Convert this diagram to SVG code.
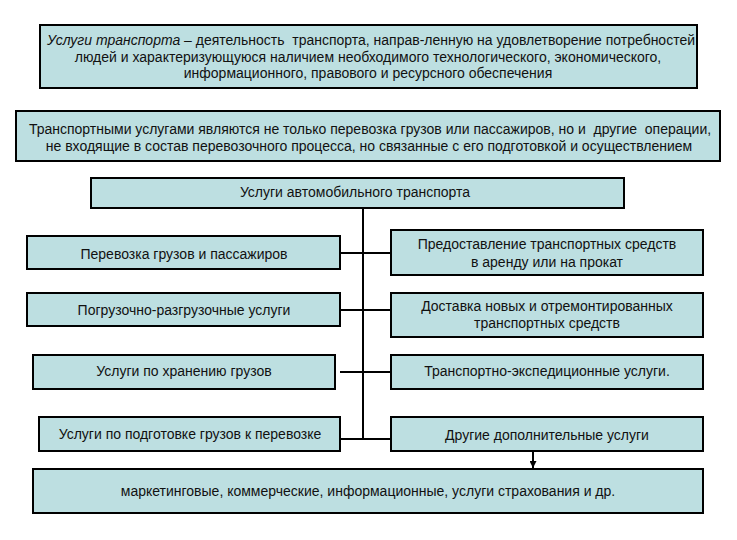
<svg xmlns="http://www.w3.org/2000/svg" width="737" height="540" viewBox="0 0 737 540">
<defs>
<style>
.box{fill:#bddfe1;stroke:#000;stroke-width:2}
.t{font-family:"Liberation Sans",Arial,sans-serif;font-size:14px;fill:#111;text-anchor:middle}
.c{stroke:#000;stroke-width:2;fill:none}
</style>
<marker id="ah" viewBox="0 0 10 10" refX="10" refY="5" markerWidth="7" markerHeight="7" orient="auto" markerUnits="userSpaceOnUse">
<path d="M0,0 L10,5 L0,10 z" fill="#000"/>
</marker>
</defs>
<rect width="737" height="540" fill="#fff"/>
<g id="def1">
<rect class="box" x="40" y="25" width="657" height="63"/>
<text class="t" x="371" y="45" xml:space="preserve" textLength="648" lengthAdjust="spacingAndGlyphs"><tspan font-style="italic">Услуги транспорта</tspan> – деятельность  транспорта, направ-ленную на удовлетворение потребностей</text>
<text class="t" x="368" y="62">людей и характеризующуюся наличием необходимого технологического, экономического,</text>
<text class="t" x="368" y="78">информационного, правового и ресурсного обеспечения</text>
</g>
<g id="def2">
<rect class="box" x="16" y="111" width="704" height="50"/>
<text class="t" x="370" y="134" xml:space="preserve">Транспортными услугами являются не только перевозка грузов или пассажиров, но и  другие  операции,</text>
<text class="t" x="369" y="151">не входящие в состав перевозочного процесса, но связанные с его подготовкой и осуществлением</text>
</g>
<g id="header">
<rect class="box" x="91" y="178" width="533" height="30"/>
<text class="t" x="355" y="197">Услуги автомобильного транспорта</text>
</g>
<g id="connectors">
<line class="c" x1="363" y1="208" x2="363" y2="440"/>
<line class="c" x1="340" y1="253" x2="391" y2="253"/>
<line class="c" x1="340" y1="310" x2="391" y2="310"/>
<line class="c" x1="340" y1="372" x2="391" y2="372"/>
<line class="c" x1="340" y1="439" x2="391" y2="439"/>
<line class="c" x1="533" y1="451" x2="533" y2="468" marker-end="url(#ah)" stroke-width="1.5"/>
</g>
<g id="l1">
<rect class="box" x="27" y="236" width="313" height="33"/>
<text class="t" x="184" y="259">Перевозка грузов и пассажиров</text>
</g>
<g id="l2">
<rect class="box" x="27" y="293" width="313" height="33"/>
<text class="t" x="184" y="315">Погрузочно-разгрузочные услуги</text>
</g>
<g id="l3">
<rect class="box" x="33" y="355" width="302" height="34"/>
<text class="t" x="184" y="376">Услуги по хранению грузов</text>
</g>
<g id="l4">
<rect class="box" x="39" y="417" width="301" height="34"/>
<text class="t" x="190" y="439">Услуги по подготовке грузов к перевозке</text>
</g>
<g id="r1">
<rect class="box" x="391" y="230" width="312" height="45"/>
<text class="t" x="547" y="249">Предоставление транспортных средств</text>
<text class="t" x="547" y="267">в аренду или на прокат</text>
</g>
<g id="r2">
<rect class="box" x="391" y="293" width="312" height="44"/>
<text class="t" x="547" y="311">Доставка новых и отремонтированных</text>
<text class="t" x="547" y="328">транспортных средств</text>
</g>
<g id="r3">
<rect class="box" x="391" y="355" width="312" height="34"/>
<text class="t" x="547" y="376">Транспортно-экспедиционные услуги.</text>
</g>
<g id="r4">
<rect class="box" x="391" y="417" width="312" height="34"/>
<text class="t" x="547" y="440">Другие дополнительные услуги</text>
</g>
<g id="bottom">
<rect class="box" x="33" y="469" width="670" height="44"/>
<text class="t" x="368" y="496">маркетинговые, коммерческие, информационные, услуги страхования и др.</text>
</g>
</svg>
